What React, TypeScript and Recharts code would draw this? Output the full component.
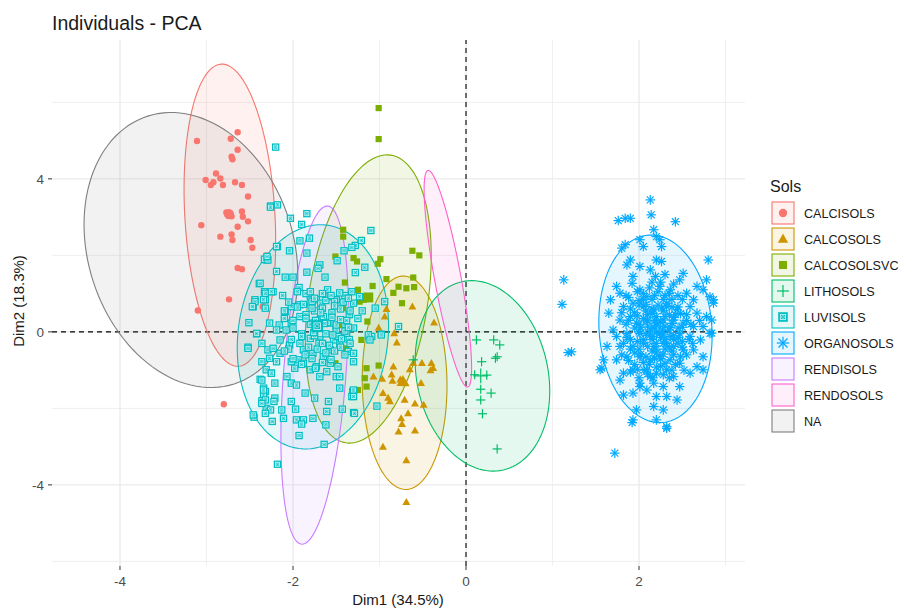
import React from 'react'
import { ScatterChart, Scatter, XAxis, YAxis, CartesianGrid, ReferenceLine } from 'recharts'

const groups = ['CALCISOLS', 'CALCOSOLS', 'CALCOSOLSVC', 'LITHOSOLS', 'LUVISOLS', 'ORGANOSOLS', 'RENDISOLS', 'RENDOSOLS', 'NA']
const colors = ['#F8766D', '#CD9600', '#7CAE00', '#00BE67', '#00BFC4', '#00A9FF', '#C77CFF', '#FF61CC', '#7F7F7F']
const shapes = ['circle', 'triangle', 'square', 'plus', 'luv', 'star', '', '', '']

const xTicks = [-4, -2, 0, 2]
const yTicks = [-4, 0, 4]
const xMinor = [-3, -1, 1, 3]
const yMinor = [-6, -2, 2, 6]

// ellipse centre, one end of the first axis, one end of the second axis (Dim1, Dim2)
const ellipseCentres = [[-2.73, 3.05], [-0.71, -1.33], [-1.13, 0.86], [0.19, -1.15], [-1.77, -0.13], [2.19, 0.08], [-1.75, -1.13], [-0.21, 1.39], [-3.18, 2.14]]
const ellipseMajorEnds = [[-2.83, 7.0], [-0.72, 1.46], [-0.87, 4.62], [-0.05, 1.31], [-1.61, 2.79], [2.11, 2.53], [-1.6, 3.29], [-0.44, 4.22], [-3.68, 5.64]]
const ellipseMinorEnds = [[-2.21, 3.12], [-0.22, -1.35], [-0.45, 0.63], [0.93, -0.77], [-0.91, -0.38], [2.84, 0.19], [-1.39, -1.19], [-0.06, 1.46], [-2.05, 2.96]]

const calcisols = [[-3.11, 4.99], [-2.64, 5.22], [-2.72, 5.05], [-2.64, 4.76], [-2.71, 4.58], [-2.7, 4.51], [-2.89, 4.14], [-3.01, 3.97], [-2.95, 3.84], [-2.92, 3.91], [-2.84, 4.01], [-2.81, 3.84], [-2.67, 3.91], [-2.59, 3.84], [-2.52, 3.54], [-2.59, 3.15], [-2.58, 3.01], [-2.52, 2.89], [-2.64, 2.75], [-3.06, 2.79], [-2.84, 2.49], [-2.71, 2.55], [-2.7, 2.4], [-2.49, 2.4], [-2.47, 2.2], [-2.64, 1.67], [-2.59, 1.64], [-2.74, 0.85], [-3.1, 0.56], [-2.35, 0.66], [-2.31, 2.0], [-2.8, -1.89], [-2.77, 3.12], [-2.71, 3.02]]

const calcosols = [[-0.92, 0.59], [-0.94, 0.4], [-0.62, 0.66], [-1.01, 0.1], [-0.83, -0.04], [-0.8, -0.28], [-0.84, -0.91], [-0.86, -1.12], [-0.85, -1.28], [-1.07, -1.17], [-0.97, -1.23], [-0.65, -0.98], [-0.61, -0.82], [-0.51, -0.82], [-0.4, -0.82], [-0.38, -0.95], [-0.41, -1.01], [-0.52, -1.34], [-0.96, -1.6], [-0.88, -1.82], [-0.9, -1.73], [-0.71, -1.78], [-0.59, -1.88], [-0.49, -1.91], [-0.67, -2.13], [-0.75, -2.26], [-0.74, -2.41], [-0.78, -2.61], [-0.59, -2.58], [-0.96, -3.01], [-0.69, -3.36], [-0.69, -4.45], [-0.37, 0.24], [-0.76, -1.25], [-0.7, -1.35]]

const calcosolsvc = [[-1.01, 5.85], [-1.01, 5.04], [-0.62, 2.12], [-0.54, 2.0], [-0.99, 1.9], [-1.02, 1.78], [-0.92, 1.38], [-0.78, 1.18], [-0.69, 1.14], [-0.6, 1.17], [-0.74, 0.75], [-1.08, 1.2], [-1.19, 0.92], [-1.23, 0.79], [-1.4, 1.29], [-1.17, -1.21], [-1.15, -1.43], [-1.01, -0.88], [-1.42, 2.67], [-1.42, 2.49], [-1.51, 1.97], [-1.3, 1.93], [-1.26, 1.84], [-1.42, 0.62], [-1.25, 1.1], [-1.18, 0.84], [-1.14, 0.27], [-1.44, 0.18], [-0.61, 1.42], [-1.25, -1.52], [-1.15, -0.95], [-1.21, -0.21], [-1.51, -0.82], [-1.38, -0.43], [-0.84, 1.02]]

const lithosols = [[0.12, -0.21], [0.32, -0.21], [0.39, -0.34], [0.36, -0.65], [0.34, -0.69], [0.18, -0.78], [0.17, -1.5], [0.29, -1.6], [0.17, -1.78], [0.19, -2.14], [0.36, -3.06], [-0.61, -0.73], [0.1, -1.12], [0.24, -1.13]]

const luvisols = [[-2.26, 3.29], [-2.18, 3.32], [-2.03, 2.97], [-1.84, 3.09], [-1.9, 2.81], [-1.92, 2.38], [-1.81, 2.45], [-2.18, 2.23], [-2.04, 2.12], [-2.31, 1.88], [-2.33, 1.9], [-1.84, 2.06], [-1.69, 1.75], [-1.71, 1.66], [-1.49, 1.86], [-1.28, 2.26], [-1.32, 2.21], [-1.41, 2.12], [-1.21, 2.39], [-1.1, 2.65], [-2.19, 1.58], [-2.09, 1.43], [-2.0, 1.43], [-1.84, 1.56], [-1.63, 1.43], [-1.28, 1.55], [-1.17, 1.69], [-2.39, 1.26], [-2.33, 1.05], [-2.23, 1.05], [-2.44, 0.84], [-2.46, 0.66], [-2.32, 0.84], [-1.93, 1.16], [-1.8, 0.92], [-2.02, 0.66], [-1.92, 0.71], [-2.09, 0.53], [-1.73, 0.84], [-1.57, 0.92], [-1.5, 0.84], [-1.32, 1.05], [-1.23, 0.92], [-1.05, 0.62], [-0.94, 0.79], [-2.51, 0.24], [-2.16, 0.18], [-2.02, 0.23], [-1.92, 0.4], [-1.77, 0.23], [-1.69, 0.31], [-1.57, 0.23], [-1.5, 0.14], [-1.4, 0.27], [-0.78, 0.14], [-1.09, -0.12], [-0.98, -0.06], [-2.27, 0.23], [-2.19, 0.05], [-2.52, -0.4], [-2.42, -0.05], [-2.36, -0.78], [-2.31, -0.99], [-2.25, -1.08], [-2.38, -1.24], [-2.34, -1.47], [-2.32, -1.56], [-2.34, -1.65], [-2.21, -1.34], [-2.21, -1.73], [-2.22, -1.82], [-2.36, -1.8], [-2.31, -2.0], [-2.26, -2.04], [-2.45, -2.23], [-2.24, -2.34], [-2.13, -2.04], [-2.11, -2.26], [-2.02, -1.82], [-1.97, -2.02], [-1.96, -2.3], [-1.88, -2.3], [-1.9, -2.41], [-1.93, -2.71], [-1.77, -2.26], [-1.86, -1.6], [-1.75, -1.73], [-1.61, -2.08], [-1.59, -1.82], [-1.62, -2.43], [-1.43, -2.02], [-1.46, -1.47], [-1.5, -1.17], [-1.3, -2.11], [-1.31, -1.56], [-1.32, -1.69], [-1.03, -1.94], [-1.64, -2.94], [-2.18, -3.46], [-1.36, -0.51], [-1.3, -0.56], [-1.48, -0.91], [-1.46, -1.17], [-1.3, -0.78], [-0.98, -0.08], [-1.13, -0.08], [-1.38, -0.04], [-2.29, -0.47], [-2.23, -0.43], [-2.15, -0.56], [-2.19, -0.78], [-2.02, -0.78], [-1.94, -0.73], [-1.88, -0.82], [-2.07, -1.17], [-2.02, -1.34], [-1.96, -1.39], [-1.8, -0.99], [-1.73, -0.91], [-1.61, -1.04], [-1.69, -1.17], [-1.57, -0.82], [-1.65, -0.65], [-1.77, -0.56], [-1.88, -0.47], [-1.57, -0.47], [-1.46, -0.3], [-1.53, -0.21], [-1.69, -0.21], [-1.8, -0.17], [-1.92, -0.3], [-2.04, -0.34], [-2.15, -0.21], [-1.3, -1.52], [-1.3, -1.69], [-1.29, -2.13], [-1.11, -0.21], [-2.2, 4.83], [-2.26, 3.26], [-2.19, 2.23], [-2.29, 1.88], [-2.3, 1.97], [-2.38, 1.27], [-2.32, 1.01], [-2.25, 1.05], [-2.34, 0.84], [-2.44, 0.79], [-2.47, 0.66], [-2.32, 0.62], [-2.42, -0.04], [-2.52, -0.43], [-2.36, -0.3], [-2.27, -0.69], [-2.25, -1.08], [-2.36, -1.26], [-2.34, -1.52], [-2.32, -1.78], [-2.36, -1.87], [-2.32, -2.13], [-2.46, -2.17], [-1.85, 0.45], [-1.75, 0.55], [-1.65, 0.4], [-1.55, 0.5], [-1.45, 0.6], [-1.35, 0.45], [-1.8, 0.2], [-1.7, 0.1], [-1.6, 0.25], [-1.5, 0.05], [-1.4, 0.2], [-1.3, 0.1], [-1.9, -0.05], [-1.75, -0.1], [-1.62, -0.05], [-1.48, -0.12], [-1.35, -0.2], [-1.25, 0.35], [-2.0, 0.1], [-2.1, 0.35], [-1.95, 0.65], [-1.68, 0.75], [-1.52, 0.8], [-1.4, 0.95], [-1.85, 1.0], [-1.6, 1.1], [-1.3, 0.75], [-1.2, 0.55], [-2.05, -0.45], [-1.58, -0.35], [-1.7, -0.3], [-1.45, -0.4], [-1.82, -0.4], [-1.38, 0.3], [-1.66, 0.62], [-1.78, 0.8], [-2.12, 0.95], [-2.05, 0.78], [-2.1, 0.55], [-2.0, 0.3], [-2.08, 0.05], [-2.02, -0.2], [-2.1, -0.5], [-2.0, -0.7], [-1.98, -0.95], [-1.95, 1.05], [-1.88, 0.72], [-1.85, 0.35], [-1.9, -0.12], [-1.86, -0.6], [-1.9, -0.85], [-1.8, 1.05], [-1.75, 0.88], [-1.78, 0.62], [-1.74, 0.3], [-1.76, -0.02], [-1.72, -0.45], [-1.78, -0.7], [-1.74, -0.95], [-1.66, 1.0], [-1.62, 0.82], [-1.68, 0.5], [-1.64, 0.22], [-1.66, -0.3], [-1.62, -0.55], [-1.66, -0.8], [-1.56, 0.95], [-1.52, 0.68], [-1.55, 0.38], [-1.5, 0.18], [-1.54, -0.08], [-1.52, -0.5], [-1.56, -0.72], [-1.46, 1.02], [-1.42, 0.78], [-1.45, 0.32], [-1.4, 0.02], [-1.44, -0.18], [-1.4, -0.6], [-1.36, 0.88], [-1.34, 0.55], [-1.36, 0.12], [-1.34, -0.3]]

const organosols = [[2.13, 3.45], [2.14, 3.06], [2.42, 2.88], [1.76, 2.91], [1.84, 2.97], [1.9, 2.97], [2.17, 2.67], [2.8, 1.88], [1.13, 1.36], [1.11, 0.72], [1.18, -0.54], [1.22, -0.52], [1.72, -3.17], [2.32, -2.52], [1.92, -2.37], [1.57, -0.95], [2.86, 0.84], [2.84, -0.03], [2.2, 2.49], [2.01, 2.41], [2.05, 2.23], [2.26, 2.23], [1.84, 2.28], [1.8, 2.19], [2.24, 2.41], [1.9, 1.88], [1.86, 1.75], [2.2, 1.88], [2.26, 1.84], [2.01, 1.71], [2.13, 1.62], [2.19, 1.45], [1.93, 1.45], [2.51, 1.53], [2.47, 1.36], [2.78, 1.36], [2.67, 1.19], [2.74, 1.1], [1.74, 1.19], [1.78, 1.01], [1.92, 1.27], [2.01, 1.1], [2.09, 0.92], [2.24, 1.19], [2.36, 1.1], [2.55, 1.01], [2.63, 0.84], [2.82, 0.92], [2.86, 0.75], [1.67, 0.84], [1.65, 0.49], [1.82, 0.66], [1.93, 0.75], [2.05, 0.66], [2.17, 0.58], [2.32, 0.66], [2.44, 0.58], [2.59, 0.66], [2.67, 0.49], [2.78, 0.4], [2.84, 0.31], [1.78, 0.31], [1.9, 0.4], [1.97, 0.23], [2.09, 0.31], [2.2, 0.23], [2.28, 0.31], [2.4, 0.31], [2.51, 0.23], [2.63, 0.14], [2.74, 0.14], [2.82, -0.04], [1.74, -0.12], [1.86, -0.04], [2.01, -0.04], [2.13, 0.05], [2.24, -0.04], [2.36, -0.12], [2.47, -0.04], [2.59, -0.12], [2.71, -0.21], [1.63, -0.38], [1.78, -0.38], [1.93, -0.38], [2.05, -0.3], [2.17, -0.38], [2.28, -0.3], [2.4, -0.38], [2.51, -0.47], [2.63, -0.47], [2.74, -0.65], [1.59, -0.73], [1.74, -0.73], [1.86, -0.65], [2.01, -0.65], [2.13, -0.73], [2.24, -0.65], [2.36, -0.73], [2.47, -0.82], [2.67, -0.91], [1.55, -0.99], [1.82, -1.08], [1.93, -0.99], [2.09, -0.99], [2.2, -1.08], [2.32, -0.99], [2.4, -1.17], [2.59, -1.08], [2.74, -0.99], [1.78, -1.26], [2.01, -1.34], [2.17, -1.34], [2.28, -1.43], [2.47, -1.43], [1.93, -1.6], [2.09, -1.52], [2.2, -1.69], [2.32, -1.69], [2.44, -1.78], [1.82, -1.65], [1.97, -2.04], [2.17, -1.95], [2.28, -2.04], [1.93, -2.3], [2.2, -2.3], [2.32, -2.48], [2.01, -1.43], [2.13, -1.17], [2.1, 0.45], [2.18, 0.1], [2.25, -0.15], [2.05, -0.2], [2.3, 0.4], [2.15, -0.5], [2.35, 0.05], [2.22, 0.7], [2.0, 0.2], [2.4, -0.6], [2.12, -0.85], [2.28, 0.55], [2.05, 0.85], [2.38, 0.85], [1.95, -0.55], [2.45, 0.1], [2.2, -0.3], [2.3, -0.45], [1.95, 0.1], [2.05, 0.35], [2.15, 0.6], [2.25, 0.25], [2.35, 0.45], [2.45, 0.65], [2.55, 0.45], [2.6, 0.2], [2.5, -0.25], [2.4, -0.1], [2.3, -0.2], [2.2, 0.4], [2.1, 0.15], [2.0, -0.45], [1.9, -0.2], [1.85, 0.2], [1.95, 0.5], [2.05, 1.0], [2.15, 0.85], [2.3, 0.95], [2.4, 1.25], [2.15, 1.3], [2.3, 1.5], [2.05, -0.8], [2.2, -0.55], [2.35, -0.4], [2.45, -0.3], [2.55, -0.6], [2.25, -0.9], [2.1, -1.1], [1.95, -0.85], [2.35, -1.2], [2.0, 0.0], [2.12, -0.1], [2.27, 0.05], [2.38, 0.22], [2.18, 0.3], [2.08, 0.55], [2.32, 0.75], [2.42, 0.45], [2.62, -0.3], [2.7, 0.3], [1.8, -0.6], [1.7, 0.05], [2.15, -0.2], [2.25, -0.7], [2.5, 0.85], [2.0, 0.7], [1.88, 0.9], [2.22, 1.05], [1.85, 0.95], [1.9, 0.6], [1.88, 0.3], [1.86, -0.15], [1.9, -0.45], [1.88, -0.75], [1.9, -1.05], [1.98, 1.05], [2.0, 0.82], [1.98, 0.42], [2.02, 0.12], [1.98, -0.25], [2.02, -0.58], [1.98, -0.98], [2.0, -1.2], [2.08, 0.72], [2.1, 0.28], [2.08, -0.05], [2.1, -0.38], [2.08, -0.65], [2.06, -1.0], [2.18, 0.95], [2.16, 0.48], [2.2, 0.18], [2.16, -0.12], [2.2, -0.45], [2.18, -0.7], [2.2, -0.92], [2.16, -1.2], [2.28, 0.85], [2.26, 0.62], [2.3, 0.15], [2.28, -0.08], [2.32, -0.3], [2.28, -0.58], [2.3, -0.82], [2.28, -1.12], [2.38, 0.65], [2.4, 0.38], [2.36, 0.12], [2.4, -0.2], [2.38, -0.5], [2.42, -0.85], [2.38, -1.0], [2.48, 0.48], [2.5, 0.12], [2.46, -0.15], [2.5, -0.4], [2.48, -0.65], [2.52, -1.0], [1.8, 0.5], [1.82, -0.3], [2.55, 0.3], [2.58, -0.2], [2.12, 1.15], [2.25, 1.3], [2.45, 0.95], [2.35, 1.0]]

const groupPoints = [calcisols, calcosols, calcosolsvc, lithosols, luvisols, organosols, [], [], []]
const groupMeans = [[-2.74, 3.08], [-0.73, -1.3], [-1.13, 0.9], [0.17, -1.15], [-1.72, 0.15], [2.2, 0.0], null, null, null]

function Marker({ cx, cy, kind, color, k = 1 }: any) {
  if (cx == null || cy == null) return <g />
  if (kind === 'circle') return <circle cx={cx} cy={cy} r={3.2 * k} fill={color} />
  if (kind === 'triangle') {
    const s = 4 * k
    return <polygon points={`${cx},${cy - s * 1.05} ${cx - s},${cy + s * 0.7} ${cx + s},${cy + s * 0.7}`} fill={color} />
  }
  if (kind === 'square') return <rect x={cx - 3.1 * k} y={cy - 3.1 * k} width={6.2 * k} height={6.2 * k} fill={color} />
  if (kind === 'plus') {
    const s = 4.6 * k
    return (
      <g stroke={color} strokeWidth={1.2}>
        <line x1={cx - s} y1={cy} x2={cx + s} y2={cy} />
        <line x1={cx} y1={cy - s} x2={cx} y2={cy + s} />
      </g>
    )
  }
  if (kind === 'luv') {
    const s = 3.7 * k
    return (
      <g>
        <rect x={cx - s} y={cy - s} width={2 * s} height={2 * s} fill={color} />
        <rect x={cx - s * 0.55} y={cy - s * 0.55} width={s * 1.1} height={s * 1.1} fill="none" stroke="#d8f6f7" strokeWidth={0.8} />
        <circle cx={cx} cy={cy} r={s * 0.3} fill="none" stroke="#d8f6f7" strokeWidth={0.6} />
      </g>
    )
  }
  if (kind === 'star') {
    const s = 4.8 * k
    const d = s * 0.72
    return (
      <g stroke={color} strokeWidth={1.2}>
        <line x1={cx - s} y1={cy} x2={cx + s} y2={cy} />
        <line x1={cx} y1={cy - s} x2={cx} y2={cy + s} />
        <line x1={cx - d} y1={cy - d} x2={cx + d} y2={cy + d} />
        <line x1={cx - d} y1={cy + d} x2={cx + d} y2={cy - d} />
      </g>
    )
  }
  return <g />
}

// draws the confidence ellipse from the four pixel points the scatter hands to its line
const ellipseLine = (color: string) => (props: any) => {
  const pts = props.points || []
  if (pts.length < 4) return <g />
  const [a, b, c, d] = pts
  const cx = (a.x + b.x) / 2
  const cy = (a.y + b.y) / 2
  const ux = (a.x - b.x) / 2
  const uy = (a.y - b.y) / 2
  const vx = (c.x - d.x) / 2
  const vy = (c.y - d.y) / 2
  let path = ''
  for (let i = 0; i <= 120; i++) {
    const t = (i / 120) * Math.PI * 2
    const x = cx + ux * Math.cos(t) + vx * Math.sin(t)
    const y = cy + uy * Math.cos(t) + vy * Math.sin(t)
    path += (i ? 'L' : 'M') + x.toFixed(2) + ',' + y.toFixed(2)
  }
  return <path d={path + 'Z'} fill={color} fillOpacity={0.1} stroke={color} strokeWidth={1.1} />
}

const ellipseData = ellipseCentres.map((c, i) => {
  const m = ellipseMajorEnds[i]
  const n = ellipseMinorEnds[i]
  return [
    { x: m[0], y: m[1] },
    { x: 2 * c[0] - m[0], y: 2 * c[1] - m[1] },
    { x: n[0], y: n[1] },
    { x: 2 * c[0] - n[0], y: 2 * c[1] - n[1] },
  ]
})

const font = '"Liberation Sans", Arial, sans-serif'

export default function App() {
  return (
    <div style={{ position: 'absolute', left: 0, top: 0, width: 903, height: 610, background: '#fff', fontFamily: font }}>
      <ScatterChart width={903} height={610} margin={{ top: 40, right: 158, bottom: 14, left: 22 }}>
        <CartesianGrid verticalValues={xMinor} horizontalValues={yMinor} stroke="#ebebeb" strokeWidth={0.8} />
        <CartesianGrid verticalValues={xTicks} horizontalValues={yTicks} stroke="#ebebeb" strokeWidth={1.4} />
        <XAxis
          type="number"
          dataKey="x"
          domain={[-4.786, 3.225]}
          allowDataOverflow
          ticks={xTicks}
          height={30}
          axisLine={false}
          tickSize={4}
          tickMargin={6}
          tickLine={{ stroke: '#333' }}
          tick={{ fontSize: 13.5, fill: '#4D4D4D', fontFamily: font }}
        />
        <YAxis
          type="number"
          dataKey="y"
          domain={[-6.12, 7.63]}
          allowDataOverflow
          ticks={yTicks}
          width={30}
          axisLine={false}
          tickSize={4}
          tickMargin={4}
          tickLine={{ stroke: '#333' }}
          tick={{ fontSize: 13.5, fill: '#4D4D4D', fontFamily: font }}
        />
        {ellipseData.map((d, i) => (
          <Scatter
            key={'e' + i}
            data={d}
            line={ellipseLine(colors[i])}
            shape={() => <g />}
            isAnimationActive={false}
            legendType="none"
          />
        ))}
        {groupPoints.map((pts, i) =>
          pts.length ? (
            <Scatter
              key={'p' + i}
              data={pts.map(([x, y]) => ({ x, y }))}
              shape={(p: any) => <Marker cx={p.cx} cy={p.cy} kind={shapes[i]} color={colors[i]} />}
              isAnimationActive={false}
            />
          ) : null
        )}
        {groupMeans.map((m, i) =>
          m ? (
            <Scatter
              key={'m' + i}
              data={[{ x: m[0], y: m[1] }]}
              shape={(p: any) => <Marker cx={p.cx} cy={p.cy} kind={shapes[i]} color={colors[i]} k={1.6} />}
              isAnimationActive={false}
            />
          ) : null
        )}
        <ReferenceLine x={0} stroke="#000" strokeDasharray="5 4" strokeWidth={1.1} />
        <ReferenceLine y={0} stroke="#000" strokeDasharray="5 4" strokeWidth={1.1} />
      </ScatterChart>
      <svg width={903} height={610} style={{ position: 'absolute', left: 0, top: 0, pointerEvents: 'none' }} fontFamily={font}>
        <text x={52} y={30} fontSize={19.5} fill="#1a1a1a">Individuals - PCA</text>
        <text x={398} y={605} fontSize={15} fill="#1a1a1a" textAnchor="middle">Dim1 (34.5%)</text>
        <text x={24} y={301} fontSize={15} fill="#1a1a1a" textAnchor="middle" transform="rotate(-90 24 301)">Dim2 (18.3%)</text>
        <text x={770} y={192} fontSize={16} fill="#1a1a1a">Sols</text>
        {groups.map((g, i) => {
          const y = 202 + i * 26
          return (
            <g key={g}>
              <rect x={772} y={y} width={22} height={22} fill={colors[i]} fillOpacity={0.1} stroke={colors[i]} strokeWidth={1.1} />
              <Marker cx={783} cy={y + 11} kind={shapes[i]} color={colors[i]} k={1.3} />
              <text x={804} y={y + 15.5} fontSize={12.6} fill="#1a1a1a">{g}</text>
            </g>
          )
        })}
      </svg>
    </div>
  )
}
